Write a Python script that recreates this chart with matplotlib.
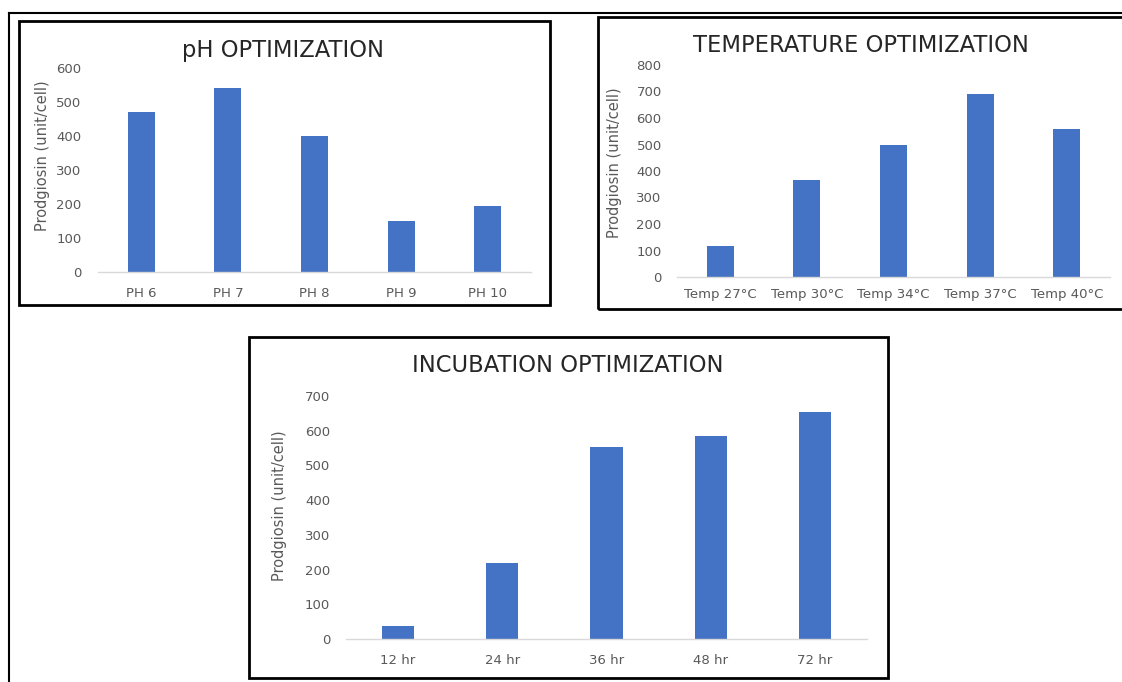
import matplotlib
matplotlib.use("Agg")
import matplotlib.pyplot as plt
from matplotlib.patches import Rectangle

plt.rcParams['font.family'] = ['DejaVu Sans']

# data
ph_labels = ['PH 6', 'PH 7', 'PH 8', 'PH 9', 'PH 10']
ph_values = [470, 540, 400, 150, 195]

temp_labels = ['Temp 27°C', 'Temp 30°C', 'Temp 34°C', 'Temp 37°C', 'Temp 40°C']
temp_values = [117, 365, 497, 690, 557]

inc_labels = ['12 hr', '24 hr', '36 hr', '48 hr', '72 hr']
inc_values = [38, 220, 553, 585, 655]

W, H = 1122, 682
BLUE = '#4472C4'
GREY = '#595959'

fig = plt.figure(figsize=(W / 100, H / 100), dpi=100)


def px_rect(x0, y0, x1, y1):
    # pixel box (top-left origin) -> figure fraction [left, bottom, width, height]
    return [x0 / W, 1 - y1 / H, (x1 - x0) / W, (y1 - y0) / H]


def box(x0, y0, x1, y1, lw=2.0):
    l, b, w, h = px_rect(x0, y0, x1, y1)
    fig.patches.append(Rectangle((l, b), w, h, transform=fig.transFigure,
                                 fill=False, edgecolor='black', linewidth=lw))


def panel(rect, labels, values, ymax, title, title_xy, ylab_xy, ypad, xpad, xsize):
    ax = fig.add_axes(px_rect(*rect))
    ax.bar(range(len(values)), values, width=0.31, color=BLUE)
    ax.set_xlim(-0.5, len(values) - 0.5)
    ax.set_ylim(0, ymax)
    ax.set_yticks(range(0, ymax + 1, 100))
    ax.set_xticks(range(len(labels)))
    ax.set_xticklabels(labels)
    for s in ['top', 'right', 'left']:
        ax.spines[s].set_visible(False)
    ax.spines['bottom'].set_color('#D9D9D9')
    ax.spines['bottom'].set_linewidth(1.0)
    ax.tick_params(axis='x', length=0, pad=xpad, labelsize=xsize, labelcolor=GREY)
    ax.tick_params(axis='y', length=0, pad=ypad, labelsize=9.5, labelcolor=GREY)
    ax.set_ylabel('Prodgiosin (unit/cell)', fontsize=10.5, color=GREY)
    ax.yaxis.set_label_coords(*ylab_xy)
    fig.text(title_xy[0] / W, 1 - title_xy[1] / H, title, ha='center', va='center',
             fontsize=16.3, color='#262626')
    return ax


# outer frame
fig.add_artist(plt.Line2D([9 / W, 9 / W], [0, 1 - 13 / H], transform=fig.transFigure,
                          color='black', linewidth=1.5))
fig.add_artist(plt.Line2D([9 / W, 1], [1 - 13 / H, 1 - 13 / H], transform=fig.transFigure,
                          color='black', linewidth=1.5))

# panel borders
box(19, 21, 550, 305)
box(598, 17, 1130, 309)
box(249, 337, 888, 678)

panel((98, 68, 531, 272), ph_labels, ph_values, 600, 'pH OPTIMIZATION', (283, 50),
      (-0.111, 0.57), 12, 11, 9.5)
panel((677, 65, 1110, 277), temp_labels, temp_values, 800, 'TEMPERATURE OPTIMIZATION', (861, 45),
      (-0.127, 0.54), 11, 8, 9.5)
panel((346, 396, 867, 639), inc_labels, inc_values, 700, 'INCUBATION OPTIMIZATION', (568, 366),
      (-0.113, 0.55), 11.5, 11, 9.5)

fig.savefig('out.png', dpi=100)
